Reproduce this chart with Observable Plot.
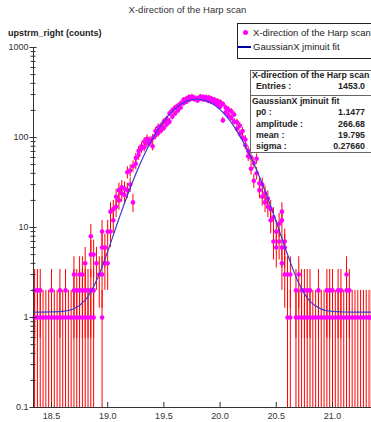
<!DOCTYPE html>
<html><head><meta charset="utf-8">
<script src="https://cdn.jsdelivr.net/npm/d3@7"></script>
<script src="https://cdn.jsdelivr.net/npm/@observablehq/plot@0.6"></script>
<style>
body{margin:0;background:#fff;font-family:"Liberation Sans",Arial,sans-serif;}
#wrap{position:relative;width:371px;height:422px;overflow:hidden;background:#fff;}
#wrap svg{position:absolute;left:0;top:0;}
.t{position:absolute;white-space:nowrap;line-height:1;color:#222;}
.b{font-weight:bold;font-size:8.8px;}
.r{text-align:right;}
</style></head><body><div id="wrap"></div>
<script>
// ---- data ----
const titleText = "X-direction of the Harp scan";
const yLabel = "upstrm_right (counts)";
const fitName = "GaussianX jminuit fit";
const entries = "1453.0";
const paramNames = ["p0 :", "amplitude :", "mean :", "sigma :"];
const paramValues = ["1.1477", "266.68", "19.795", "0.27660"];

const xDomain = [18.34, 21.347];
const yDomain = [0.1, 1000];
const xTicks = [18.5, 19.0, 19.5, 20.0, 20.5, 21.0];
const yMajor = [0.1, 1, 10, 100, 1000];

// scan positions and the counts read at each one
const scanPos = [
  18.350,18.375,18.400,18.425,18.450,18.475,18.500,18.525,18.550,18.575,
  18.600,18.625,18.650,18.675,18.700,18.725,18.750,18.775,18.800,18.825,
  18.850,18.875,18.900,18.925,18.950,18.975,19.000,19.025,19.050,19.075,
  19.100,19.125,19.150,19.175,19.200,19.225,19.250,19.275,19.300,19.325,
  19.350,19.375,19.400,19.425,19.450,19.475,19.500,19.525,19.550,19.575,
  19.600,19.625,19.650,19.675,19.700,19.725,19.750,19.775,19.800,19.825,
  19.850,19.875,19.900,19.925,19.950,19.975,20.000,20.025,20.050,20.075,
  20.100,20.125,20.150,20.175,20.200,20.225,20.250,20.275,20.300,20.325,
  20.350,20.375,20.400,20.425,20.450,20.475,20.500,20.525,20.550,20.575,
  20.600,20.625,20.675,20.700,20.725,20.750,20.775,20.800,20.825,20.850,
  20.875,20.900,20.925,20.950,20.975,21.000,21.025,21.050,21.075,21.100,
  21.125,21.150,21.175,21.200,21.225,21.250,21.275,21.300,21.325,21.345
];
const counts = [
  [1,2],[1,2],[1,2],[1],[1],[1],[1,2],[1],[1],[1,2],
  [1],[1,2],[1],[1],[1,2,3],[1,2],[1,2,3],[1,2,3],[1,2,4],[1,2],
  [1,2,5,8],[1,2,5],[4],[3],[1,3,6,9],[4,6],[9,4],[9,15],[12,16],[17,22],
  [20,26],[24,28],[23,27],[26,41],[30,43],[19,48],[51,59],[64,71],[75,80],[78,90],
  [86,97],[88,92],[80,98],[105,118],[112,130],[120,135],[128,150],[140,160],[150,185],[170,200],
  [185,215],[200,225],[215,240],[240,262],[250,270],[262,282],[270,285],[265,275],[258,272],[270,285],
  [265,282],[262,280],[255,278],[248,270],[240,262],[232,255],[220,248],[155,235],[190,215],[175,205],
  [165,195],[150,180],[125,148],[110,135],[100,118],[82,95],[62,71],[45,60],[33,52],[40,58],
  [26,31],[22,30],[19,24],[17,21],[12,16],[7,13],[6,9],[7,11],[4,6,12,15],[3,6,7],
  [1,3],[1,3],[1,2],[1,3],[1,2],[1,2],[1,2],[1,2],[1],[1],
  [1,2],[1],[1],[1,2],[1,2],[1,2],[1],[1,2],[1,2],[1],
  [1,2,3],[1,2],[1],[1],[1],[1],[1],[1],[1],[1]
];

// fitted curve as drawn
const fitX = [18.34,18.5,18.6,18.7,18.8,18.9,19.0,19.1,19.2,19.3,19.4,19.5,19.6,19.7,19.8,
              19.9,20.0,20.1,20.2,20.3,20.4,20.5,20.6,20.7,20.8,20.9,21.0,21.1,21.2,21.347];
const fitY = [1.148,1.152,1.171,1.253,1.56,2.57,5.43,12.5,27.5,54.9,97.3,152.1,209.1,252.5,267.8,
              249.3,203.8,146.4,92.4,51.5,25.5,11.5,5.01,2.41,1.51,1.239,1.168,1.151,1.148,1.148];

// ---- build tables ----
const points = scanPos.flatMap((x, i) => counts[i].map(y => ({x, y})));
const fit = fitX.map((x, i) => ({x, y: fitY[i]}));

const plot = Plot.plot({
  width: 371, height: 422,
  marginLeft: 33, marginRight: 0, marginTop: 47, marginBottom: 15,
  style: {fontFamily: "Liberation Sans, Arial, sans-serif", fontSize: "9px", color: "#333", background: "transparent"},
  x: {domain: xDomain},
  y: {type: "log", domain: yDomain},
  marks: [
    Plot.ruleX(points, {x: "x", y1: d => Math.max(d.y - Math.sqrt(d.y), yDomain[0]), y2: d => d.y + Math.sqrt(d.y), stroke: "#ff0000", strokeWidth: 1}),
    Plot.dot(points, {x: "x", y: "y", r: 2.3, fill: "#ff00ff"}),
    Plot.line(fit, {x: "x", y: "y", stroke: "#3a3ad0", strokeWidth: 1.2, curve: "catmull-rom"}),
    Plot.ruleY([yDomain[0]], {stroke: "#333"}),
    Plot.ruleX([xDomain[0]], {stroke: "#333"}),
    Plot.axisY({tickSize: 5, dx: 2.5, tickFormat: () => "", label: null, stroke: "#333"}),
    Plot.axisY({ticks: yMajor, tickSize: 7, dx: 3.5, tickFormat: () => "", label: null, stroke: "#333"}),
    Plot.axisY({ticks: yMajor, tickSize: 0, tickPadding: 5, tickFormat: d => String(d), label: null}),
    Plot.axisX({ticks: xTicks, tickSize: 5, dy: -5, tickFormat: () => "", label: null, stroke: "#333"}),
    Plot.axisX({ticks: xTicks, tickSize: 0, tickPadding: 5, tickFormat: d => d.toFixed(1), label: null})
  ]
});

const wrap = document.getElementById("wrap");
wrap.appendChild(plot);

function add(html) { wrap.insertAdjacentHTML("beforeend", html); }
// title and axis label
add(`<div class="t" style="left:2px;width:371px;text-align:center;top:5px;font-size:9.5px;color:#333">${titleText}</div>`);
add(`<div class="t" style="left:8px;top:29px;font-size:9px;font-weight:bold">${yLabel}</div>`);
// legend
add(`<div style="position:absolute;left:237px;top:23px;width:140px;height:34px;border:1px solid #222;background:#fff"></div>`);
add(`<div style="position:absolute;left:243px;top:30px;width:5px;height:5px;border-radius:50%;background:#ff00ff"></div>`);
add(`<div class="t" style="left:253px;top:27.5px;font-size:9.5px">${titleText}</div>`);
add(`<div style="position:absolute;left:238px;top:45.5px;width:13px;height:2.5px;background:#0000aa"></div>`);
add(`<div class="t" style="left:253px;top:41.5px;font-size:9.5px">${fitName}</div>`);
// stats box
add(`<div style="position:absolute;left:250px;top:70px;width:125px;height:81px;border:1px solid #666;background:#fff"></div>`);
add(`<div style="position:absolute;left:250px;top:95px;width:125px;height:1px;background:#666"></div>`);
add(`<div class="t b" style="left:252px;top:71px">${titleText}</div>`);
add(`<div class="t b" style="left:256px;top:82px">Entries :</div>`);
add(`<div class="t b r" style="right:6px;top:82px">${entries}</div>`);
add(`<div class="t b" style="left:252px;top:97px">${fitName}</div>`);
const rowsY = [108, 119.5, 131, 142];
paramNames.forEach((n, i) => {
  add(`<div class="t b" style="left:256px;top:${rowsY[i]}px">${n}</div>`);
  add(`<div class="t b r" style="right:6px;top:${rowsY[i]}px">${paramValues[i]}</div>`);
});
</script></body></html>
